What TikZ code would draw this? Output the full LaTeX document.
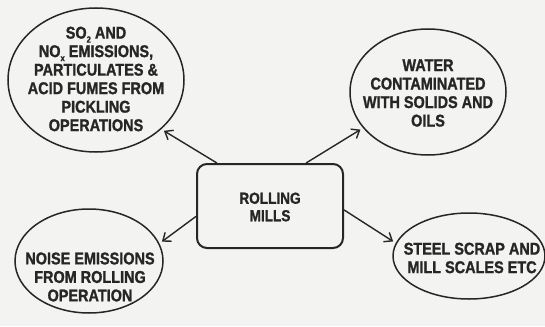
\documentclass[tikz,border=0pt]{standalone}
\usepackage{fontspec}
\setmainfont{Liberation Sans}[UprightFont={* Bold}, BoldFont={* Bold}, FakeStretch=0.85, FakeBold=1.2]
\usetikzlibrary{shapes.geometric,arrows.meta}
\definecolor{ink}{HTML}{262626}
\definecolor{paper}{HTML}{F3F3F1}
\newcommand\lowsub[1]{\raisebox{-0.45ex}{\fontsize{9}{9}\selectfont #1}}
\tikzset{
  x=1pt, y=-1pt,
  bubble/.style={draw=ink, line width=1.5pt, ellipse, inner sep=0pt},
  label/.style={text=ink, align=center, font=\fontsize{17}{18.5}\selectfont, inner sep=0pt},
  hub/.style={draw=ink, line width=2pt, rounded corners=10pt, minimum width=146pt, minimum height=84pt, inner sep=0pt},
  link/.style={draw=ink, line width=1.4pt, -{Straight Barb[length=7pt,width=11pt,line width=1.4pt]}, shorten >=3pt}
}
\begin{document}
\begin{tikzpicture}
\fill[paper] (0,0) rectangle (545,326);
\useasboundingbox (0,0) rectangle (545,326);

\node[hub] (rm) at (270,206) {};
\node[label, font=\fontsize{16}{17.5}\selectfont] (rmt) at (270,207) {ROLLING\\MILLS};

\node[bubble, minimum width=176pt, minimum height=144pt] (tl) at (96,80) {};
\node[label] (tlt) at (96,79) {SO\lowsub{2} AND\\NO\lowsub{x} EMISSIONS,\\PARTICULATES \&\\ACID FUMES FROM\\PICKLING\\OPERATIONS};

\node[bubble, minimum width=156pt, minimum height=126pt] (tr) at (428,92) {};
\node[label] (trt) at (428,93) {WATER\\CONTAMINATED\\WITH SOLIDS AND\\OILS};

\node[bubble, minimum width=148pt, minimum height=104pt] (bl) at (89,261) {};
\node[label] (blt) at (90,277) {NOISE EMISSIONS\\FROM ROLLING\\OPERATION};

\node[bubble, minimum width=152pt, minimum height=86pt] (br) at (469,256) {};
\node[label] (brt) at (472,258) {STEEL SCRAP AND\\MILL SCALES ETC};

\draw[link] (rm.141) -- (tl.-37.5);
\draw[link] (rm.50) -- (tr.209);
\draw[link] (rm.188.6) -- (bl.14.4);
\draw[link] (rm.357) -- (br.170);
\end{tikzpicture}
\end{document}
